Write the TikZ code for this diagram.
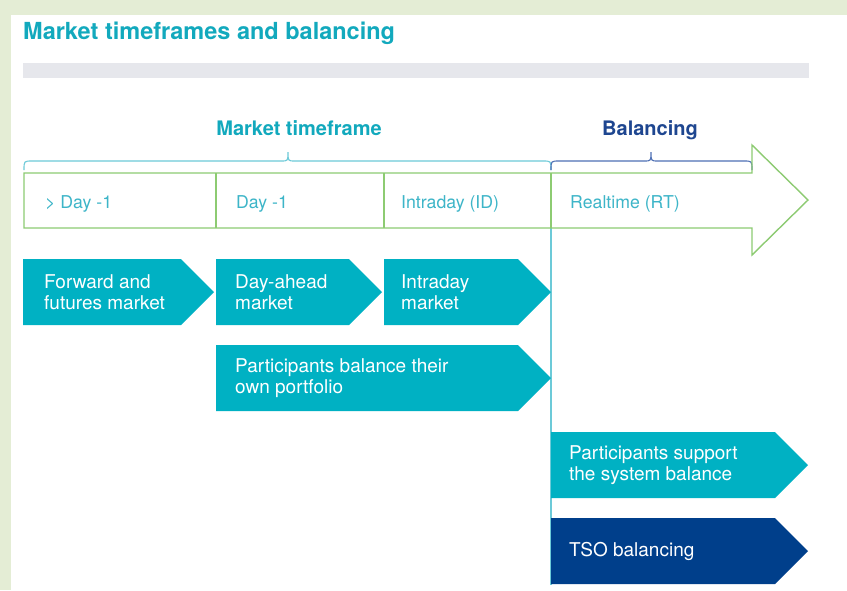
\documentclass[tikz,border=0pt]{standalone}
\usepackage{fontspec}
\setmainfont{TeX Gyre Heros}

\definecolor{mtpage}{HTML}{E4EDD5}
\definecolor{mtteal}{HTML}{00B1C3}
\definecolor{mtnavy}{HTML}{003F8B}
\definecolor{mttitle}{HTML}{12A9BD}
\definecolor{mtlabel}{HTML}{3DB5C8}
\definecolor{mtgreen}{HTML}{8DCB72}
\definecolor{mtbar}{HTML}{E6E7EC}
\definecolor{mtbrace}{HTML}{6CCAD8}
\definecolor{mtbalbrace}{HTML}{4E70B4}
\definecolor{mtbaltext}{HTML}{1E4690}

% chevron: fill colour, left x, right (tip) x, top y, bottom y
\newcommand{\mtchevron}[5]{%
  \fill[#1] (#2,#4) -- ({#3-33},#4) -- (#3,{(#4+#5)/2}) -- ({#3-33},#5) -- (#2,#5) -- cycle;}

% curly brace along y = -161 between x1 and x2 with its tip at xm
\newcommand{\mtbrace}[4]{%
  \draw[#1, line width=1.1pt]
    (#2,-170) .. controls (#2,-161) .. ({#2+8},-161) -- ({#4-7},-161)
    .. controls (#4,-161) .. (#4,-152) .. controls (#4,-161) .. ({#4+7},-161)
    -- ({#3-8},-161) .. controls (#3,-161) .. (#3,-170);}

\tikzset{
  boxtext/.style={text=white, align=left, anchor=west, inner sep=0pt,
    font=\fontsize{19}{20.5}\selectfont},
  tltext/.style={text=mtlabel, anchor=base west, inner sep=0pt,
    font=\fontsize{17.7}{20}\selectfont},
  headtext/.style={anchor=base, inner sep=0pt,
    font=\fontsize{20}{22}\selectfont\bfseries},
  timeline/.style={draw=mtgreen, line width=1.4pt},
}

\begin{document}
\begin{tikzpicture}[x=1pt, y=1pt]
  % page background and white panel
  \fill[mtpage] (0,0) rectangle (847,-590);
  \fill[white] (11,-15) rectangle (847,-590);
  \useasboundingbox (0,0) rectangle (847,-590);

  % title and grey rule
  \node[anchor=base west, inner sep=0pt, text=mttitle,
        font=\fontsize{23.5}{26}\selectfont\bfseries] (title) at (23,-39.5)
        {Market timeframes and balancing};
  \fill[mtbar] (23,-63) rectangle (809,-78);

  % group headings and braces
  \node[headtext, text=mttitle] (mtf) at (299,-135) {Market timeframe};
  \node[headtext, text=mtbaltext] (bal) at (650,-135) {Balancing};
  \mtbrace{mtbrace}{24}{551}{288}
  \mtbrace{mtbalbrace}{551}{752}{651}

  % separator between market and balancing
  \draw[mtbrace, line width=1.2pt] (551,-228) -- (551,-585);

  % timeline arrow
  \draw[timeline] (24,-173) -- (752,-173) -- (752,-145) -- (808,-200)
        -- (752,-255) -- (752,-228) -- (24,-228) -- cycle;
  \draw[timeline] (216,-173) -- (216,-228);
  \draw[timeline] (384,-173) -- (384,-228);
  \draw[timeline] (551,-173) -- (551,-228);

  \node[tltext] (tgt) at (45,-208) {> Day -1};
  \node[tltext] (tda) at (236,-208) {Day -1};
  \node[tltext] (tid) at (401,-208) {Intraday (ID)};
  \node[tltext] (trt) at (570,-208) {Realtime (RT)};

  % market chevrons
  \mtchevron{mtteal}{23}{214}{-259}{-325}
  \mtchevron{mtteal}{216}{382}{-259}{-325}
  \mtchevron{mtteal}{384}{551}{-259}{-325}
  \mtchevron{mtteal}{216}{551}{-345}{-411}
  \node[boxtext] (fwd) at (44,-292) {Forward and\\futures market};
  \node[boxtext] (dam) at (235,-292) {Day-ahead\\market};
  \node[boxtext] (idm) at (401,-292) {Intraday\\market};
  \node[boxtext] (own) at (235,-378) {Participants balance their\\own portfolio};

  % balancing chevrons
  \mtchevron{mtteal}{551}{808}{-432}{-498}
  \mtchevron{mtnavy}{551}{808}{-518}{-584}
  \node[boxtext] (sys) at (569,-465) {Participants support\\the system balance};
  \node[boxtext] (tso) at (569,-551) {TSO balancing};
\end{tikzpicture}
\end{document}
